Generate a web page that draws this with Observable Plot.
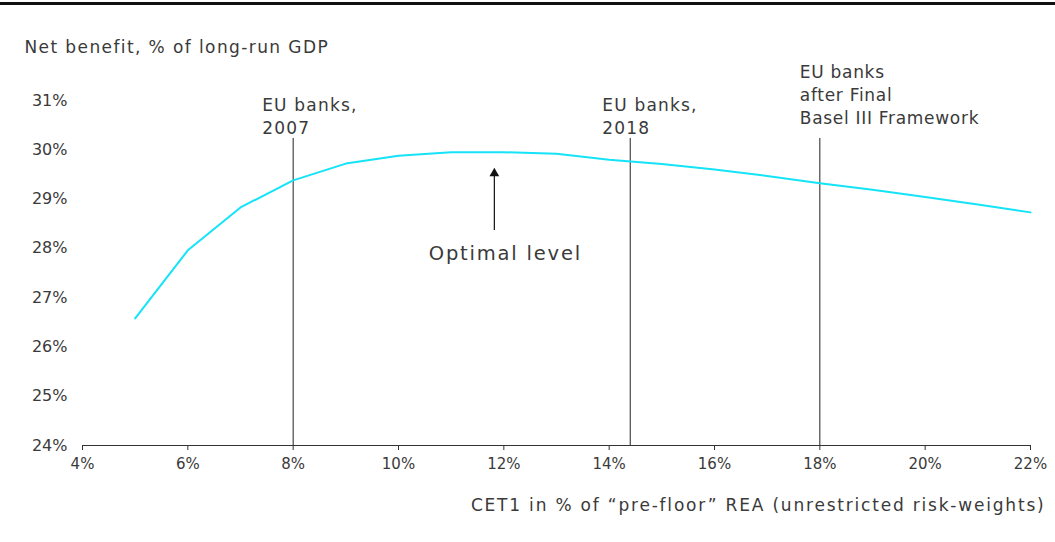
<!DOCTYPE html>
<html>
<head>
<meta charset="utf-8">
<script src="https://cdn.jsdelivr.net/npm/d3@7"></script>
<script src="https://cdn.jsdelivr.net/npm/@observablehq/plot@0.6"></script>
<style>
  html, body { margin: 0; padding: 0; background: #fff; }
  #wrap { position: relative; width: 1055px; height: 542px; overflow: hidden; }
  #topbar { position: absolute; left: 0; top: 2px; width: 1055px; height: 3px; background: #111; }
  svg { font-family: "DejaVu Sans", sans-serif; }
</style>
</head>
<body>
<div id="wrap"><div id="topbar"></div><div id="chart"></div></div>
<script>
// ---- Data ----
const cet1 = [5, 6, 7, 8, 9, 10, 11, 12, 13, 14, 15, 16, 17, 18, 19, 20, 21, 22];
const netBenefit = [26.58, 27.96, 28.83, 29.38, 29.72, 29.88, 29.95, 29.95, 29.92, 29.80, 29.71, 29.60, 29.47, 29.32, 29.19, 29.04, 28.89, 28.73];
const xTicks = [4, 6, 8, 10, 12, 14, 16, 18, 20, 22];
const yTicks = [24, 25, 26, 27, 28, 29, 30, 31];
const refX = [8, 14.4, 18];
const refLabels = ["EU banks,\n2007", "EU banks,\n2018", "EU banks\nafter Final\nBasel III Framework"];
const optimalX = 11.82;
const optimalLabel = "Optimal level";
const yTitle = "Net benefit, % of long-run GDP";
const xTitle = "CET1 in % of \u201Cpre-floor\u201D REA (unrestricted risk-weights)";

const series = cet1.map((x, i) => ({x, y: netBenefit[i]}));
const refs = refX.map((x, i) => ({x, label: refLabels[i], i}));
const pct = d => d + "%";
const refDx = [-31, -28, -20];
const refDy = [-4, -4, -14];
const textColor = "#3a3a3a";

const chart = Plot.plot({
  width: 1055,
  height: 542,
  marginLeft: 82,
  marginRight: 25,
  marginTop: 100,
  marginBottom: 97,
  x: {domain: [4, 22], label: null},
  y: {domain: [24, 31], label: null},
  style: {fontFamily: "DejaVu Sans, sans-serif", color: textColor, background: "#fff"},
  marks: [
    Plot.axisX({ticks: xTicks, tickFormat: pct, tickSize: 5, tickPadding: 8, fontSize: 15, label: null, stroke: "#333"}),
    Plot.axisY({ticks: yTicks, tickFormat: pct, tickSize: 0, tickPadding: 15, fontSize: 16, label: null}),
    Plot.ruleY([24], {stroke: "#333", strokeWidth: 1}),
    Plot.ruleX(refs, {x: "x", y1: 24, y2: 30.23, stroke: "#222", strokeWidth: 1}),
    Plot.line(series, {x: "x", y: "y", stroke: "#14E3F8", strokeWidth: 2}),
    ...refs.map(r => Plot.text([r], {x: "x", y: 30.23, text: "label", textAnchor: "start", lineAnchor: "bottom",
      dx: refDx[r.i], dy: refDy[r.i], fontSize: 17, lineHeight: 1.38, fill: textColor})),
    Plot.ruleX([optimalX], {y1: 28.36, y2: 29.5, stroke: "#111", strokeWidth: 1.2}),
    Plot.dot([optimalX], {x: d => d, y: 29.52, symbol: "triangle", r: 3.6, fill: "#111", stroke: "none"}),
    Plot.text([optimalLabel], {x: optimalX, y: 28.36, text: d => d, dx: 11, dy: 23, fontSize: 19.5, fill: textColor, textAnchor: "middle"}),
    Plot.text([yTitle], {frameAnchor: "top-left", text: d => d, dx: -58, dy: -60, fontSize: 17, fill: textColor, textAnchor: "start"}),
    Plot.text([xTitle], {frameAnchor: "bottom-right", text: d => d, dx: 15, dy: 65, fontSize: 17, fill: textColor, textAnchor: "end"})
  ]
});

// letter-spacing to approximate the wide geometric typeface of the original
const spacing = new Map([
  [refLabels[0].replace("\n", ""), "1.2px"],
  [refLabels[1].replace("\n", ""), "1.2px"],
  [refLabels[2].replace(/\n/g, ""), "0.7px"],
  [optimalLabel, "1.8px"],
  [yTitle, "1.4px"],
  [xTitle, "1.8px"]
]);
d3.select(chart).selectAll("text").each(function() {
  const s = spacing.get(this.textContent);
  if (s) this.setAttribute("letter-spacing", s);
});
document.getElementById("chart").appendChild(chart);
</script>
</body>
</html>
